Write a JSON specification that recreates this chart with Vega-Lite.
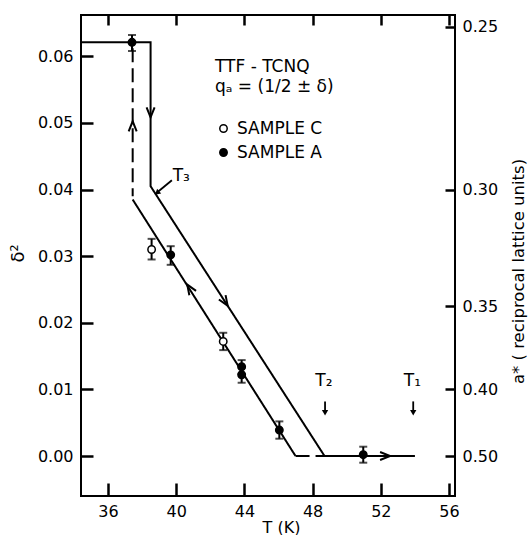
{
  "$schema": "https://vega.github.io/schema/vega-lite/v6.json",
  "width": 374,
  "height": 481,
  "autosize": {"type": "none"},
  "padding": {"left": 81, "top": 15, "right": 75, "bottom": 39},
  "background": "white",
  "config": {
    "font": "DejaVu Sans",
    "view": {"stroke": "black", "strokeWidth": 2},
    "axis": {
      "domain": false, "grid": false, "ticks": true,
      "labelFont": "DejaVu Sans", "labelFontSize": 16, "labelColor": "black",
      "tickColor": "#000000", "tickWidth": 2.5,
      "titleFont": "DejaVu Sans", "titleFontWeight": "normal", "titleColor": "black"
    }
  },
  "datasets": {
    "lines": [
      {"seg": "upper", "style": "solid", "ord": 0, "T": 34.42, "d2": 0.0621},
      {"seg": "upper", "style": "solid", "ord": 1, "T": 38.5, "d2": 0.0621},
      {"seg": "upper", "style": "solid", "ord": 2, "T": 38.5, "d2": 0.0405},
      {"seg": "upper", "style": "solid", "ord": 3, "T": 48.7, "d2": 0.0},
      {"seg": "upper", "style": "solid", "ord": 4, "T": 54.0, "d2": 0.0},
      {"seg": "lower", "style": "solid", "ord": 0, "T": 37.45, "d2": 0.0385},
      {"seg": "lower", "style": "solid", "ord": 1, "T": 47.0, "d2": 0.0},
      {"seg": "dashv", "style": "dashed", "ord": 0, "T": 37.45, "d2": 0.0612},
      {"seg": "dashv", "style": "dashed", "ord": 1, "T": 37.45, "d2": 0.039},
      {"seg": "dashh", "style": "dashed", "ord": 0, "T": 47.0, "d2": 0.0},
      {"seg": "dashh", "style": "dashed", "ord": 1, "T": 48.7, "d2": 0.0}
    ],
    "points": [
      {"sample": "SAMPLE A", "T": 37.41, "d2": 0.0621, "lo": 0.0608, "hi": 0.0632},
      {"sample": "SAMPLE A", "T": 39.68, "d2": 0.0302, "lo": 0.0287, "hi": 0.0315},
      {"sample": "SAMPLE A", "T": 43.84, "d2": 0.0134, "lo": 0.0123, "hi": 0.0144},
      {"sample": "SAMPLE A", "T": 43.84, "d2": 0.0122, "lo": 0.011, "hi": 0.0133},
      {"sample": "SAMPLE A", "T": 46.05, "d2": 0.0039, "lo": 0.0026, "hi": 0.0052},
      {"sample": "SAMPLE A", "T": 50.97, "d2": 0.0002, "lo": -0.001, "hi": 0.0014},
      {"sample": "SAMPLE C", "T": 38.56, "d2": 0.031, "lo": 0.0295, "hi": 0.0326},
      {"sample": "SAMPLE C", "T": 42.76, "d2": 0.0172, "lo": 0.0159, "hi": 0.0185}
    ],
    "chevrons": [
      {"T": 38.5, "d2": 0.0516, "dir": "down"},
      {"T": 37.45, "d2": 0.0495, "dir": "up"},
      {"T": 42.86, "d2": 0.0232, "dir": "downright"},
      {"T": 40.81, "d2": 0.0251, "dir": "upleft"},
      {"T": 52.25, "d2": 0.0, "dir": "right"}
    ],
    "pointers": [
      {"name": "T3", "T": 39.75, "d2": 0.0414, "Tend": 38.95, "d2end": 0.0397},
      {"name": "T2", "T": 48.73, "d2": 0.0082, "Tend": 48.73, "d2end": 0.0067},
      {"name": "T1", "T": 53.9, "d2": 0.0082, "Tend": 53.9, "d2end": 0.0067}
    ],
    "heads": [
      {"name": "T3", "T": 38.88, "d2": 0.0395, "dir": "downleft"},
      {"name": "T2", "T": 48.73, "d2": 0.0065, "dir": "down"},
      {"name": "T1", "T": 53.9, "d2": 0.0065, "dir": "down"}
    ],
    "tlabels": [
      {"text": "T₃", "T": 40.3, "d2": 0.042},
      {"text": "T₂", "T": 48.66, "d2": 0.0113},
      {"text": "T₁", "T": 53.85, "d2": 0.0113}
    ]
  },
  "encoding": {
    "x": {"field": "T", "type": "quantitative", "scale": {"domain": [34.42, 56.35], "nice": false, "zero": false}, "axis": null},
    "y": {"field": "d2", "type": "quantitative", "scale": {"domain": [-0.006, 0.0662], "nice": false, "zero": false}, "axis": null}
  },
  "layer": [
    {
      "data": {"name": "lines"},
      "mark": {"type": "line", "color": "black", "strokeWidth": 2},
      "encoding": {
        "x": {"field": "T", "type": "quantitative", "scale": {"domain": [34.42, 56.35], "nice": false, "zero": false},
          "axis": {"orient": "bottom", "values": [36, 40, 44, 48, 52, 56], "format": "d", "tickSize": -13, "labelPadding": 20, "title": "T (K)", "titleFontSize": 16, "titleX": 200, "titleY": 23, "titleAlign": "center", "titleBaseline": "top"}},
        "y": {"field": "d2", "type": "quantitative", "scale": {"domain": [-0.006, 0.0662], "nice": false, "zero": false},
          "axis": {"orient": "left", "values": [0, 0.01, 0.02, 0.03, 0.04, 0.05, 0.06], "format": ".2f", "tickSize": -12, "labelPadding": 20, "title": "δ²", "titleFontSize": 18, "titleAngle": -90, "titleX": -63, "titleY": 238, "titleAlign": "center", "titleBaseline": "middle"}},
        "detail": {"field": "seg"},
        "order": {"field": "ord", "type": "quantitative"},
        "strokeDash": {"field": "style", "type": "nominal", "scale": {"domain": ["solid", "dashed"], "range": [[1, 0], [14, 6]]}, "legend": null}
      }
    },
    {
      "data": {"name": "points"},
      "mark": {"type": "rule", "color": "black", "strokeWidth": 2},
      "encoding": {
        "x": {"field": "T", "type": "quantitative", "scale": {"domain": [34.42, 56.35], "nice": false, "zero": false},
          "axis": {"orient": "top", "values": [36, 40, 44, 48, 52, 56], "labels": false, "tickSize": -10, "title": null}},
        "y": {"field": "lo", "type": "quantitative", "scale": {"domain": [-0.006, 0.0662], "nice": false, "zero": false},
          "axis": {"orient": "right", "values": [0.0644, 0.04, 0.0225, 0.01, 0], "labelExpr": "format(0.5 - sqrt(datum.value), '.2f')", "tickSize": -10, "labelPadding": 17, "title": "a* ( reciprocal lattice units)", "titleFontSize": 16.5, "titleAngle": -90, "titleX": 63, "titleY": 256, "titleAlign": "center", "titleBaseline": "middle"}},
        "y2": {"field": "hi"}
      }
    },
    {
      "data": {"name": "points"},
      "mark": {"type": "tick", "orient": "horizontal", "color": "black", "size": 8, "thickness": 2},
      "encoding": {"y": {"field": "lo", "type": "quantitative", "scale": {"domain": [-0.006, 0.0662], "nice": false, "zero": false}, "axis": null}}
    },
    {
      "data": {"name": "points"},
      "mark": {"type": "tick", "orient": "horizontal", "color": "black", "size": 8, "thickness": 2},
      "encoding": {"y": {"field": "hi", "type": "quantitative", "scale": {"domain": [-0.006, 0.0662], "nice": false, "zero": false}, "axis": null}}
    },
    {
      "data": {"name": "points"},
      "mark": {"type": "point", "shape": "circle", "size": 55, "stroke": "black", "strokeWidth": 1.5, "opacity": 1, "filled": true},
      "encoding": {
        "fill": {"field": "sample", "type": "nominal", "scale": {"domain": ["SAMPLE C", "SAMPLE A"], "range": ["white", "black"]},
          "legend": {"orient": "none", "legendX": 134, "legendY": 44, "title": ["TTF - TCNQ", "qₐ = (1/2 ± δ)"], "titleFontSize": 17, "titleFontWeight": "normal", "titleFont": "DejaVu Sans", "titleColor": "black", "titleLineHeight": 20, "titlePadding": 24, "labelFontSize": 17, "labelFont": "DejaVu Sans", "labelColor": "black", "symbolType": "circle", "symbolSize": 55, "symbolStrokeColor": "black", "symbolStrokeWidth": 1.5, "rowPadding": 6, "labelOffset": 5, "padding": 0}}
      }
    },
    {
      "data": {"name": "chevrons"},
      "transform": [{"filter": "datum.dir == 'right'"}],
      "mark": {"type": "point", "shape": "M-1,-0.8L1,0L-1,0.8", "size": 100, "filled": false, "stroke": "black", "strokeWidth": 2, "opacity": 1, "angle": 0}
    },
    {
      "data": {"name": "chevrons"},
      "transform": [{"filter": "datum.dir == 'down'"}],
      "mark": {"type": "point", "shape": "M-1,-0.8L1,0L-1,0.8", "size": 100, "filled": false, "stroke": "black", "strokeWidth": 2, "opacity": 1, "angle": 90}
    },
    {
      "data": {"name": "chevrons"},
      "transform": [{"filter": "datum.dir == 'up'"}],
      "mark": {"type": "point", "shape": "M-1,-0.8L1,0L-1,0.8", "size": 100, "filled": false, "stroke": "black", "strokeWidth": 2, "opacity": 1, "angle": 270}
    },
    {
      "data": {"name": "chevrons"},
      "transform": [{"filter": "datum.dir == 'downright'"}],
      "mark": {"type": "point", "shape": "M-1,-0.8L1,0L-1,0.8", "size": 100, "filled": false, "stroke": "black", "strokeWidth": 2, "opacity": 1, "angle": 57}
    },
    {
      "data": {"name": "chevrons"},
      "transform": [{"filter": "datum.dir == 'upleft'"}],
      "mark": {"type": "point", "shape": "M-1,-0.8L1,0L-1,0.8", "size": 100, "filled": false, "stroke": "black", "strokeWidth": 2, "opacity": 1, "angle": 237}
    },
    {
      "data": {"name": "pointers"},
      "mark": {"type": "rule", "color": "black", "strokeWidth": 1.8},
      "encoding": {
        "x2": {"field": "Tend"},
        "y2": {"field": "d2end"}
      }
    },
    {
      "data": {"name": "heads"},
      "transform": [{"filter": "datum.dir == 'down'"}],
      "mark": {"type": "point", "shape": "triangle-down", "size": 40, "filled": true, "color": "black", "opacity": 1}
    },
    {
      "data": {"name": "heads"},
      "transform": [{"filter": "datum.dir == 'downleft'"}],
      "mark": {"type": "point", "shape": "triangle-right", "size": 40, "filled": true, "color": "black", "opacity": 1, "angle": 140}
    },
    {
      "data": {"name": "tlabels"},
      "mark": {"type": "text", "font": "DejaVu Sans", "fontSize": 17, "color": "black", "align": "center", "baseline": "middle"},
      "encoding": {"text": {"field": "text"}}
    }
  ],
  "resolve": {"axis": {"x": "independent", "y": "independent"}}
}
